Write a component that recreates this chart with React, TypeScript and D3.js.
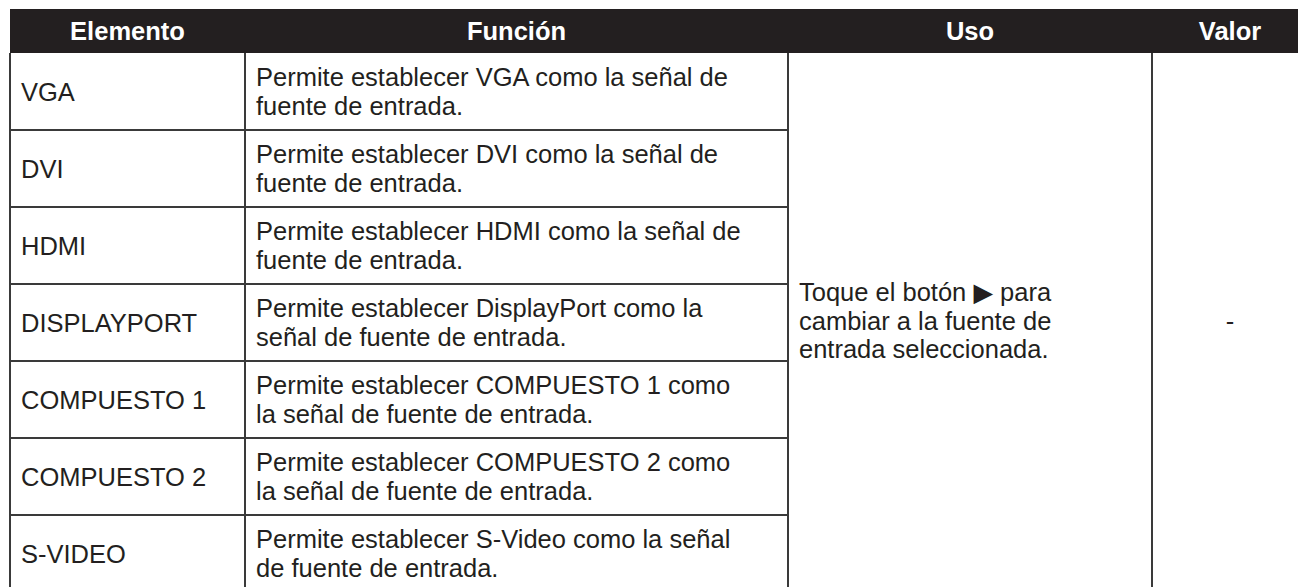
import React, { useEffect, useRef } from "react";
import * as d3 from "d3";

// table content
const headers = ["Elemento", "Función", "Uso", "Valor"];
const elementos = ["VGA", "DVI", "HDMI", "DISPLAYPORT", "COMPUESTO 1", "COMPUESTO 2", "S-VIDEO"];
const funciones = [
  ["Permite establecer VGA como la señal de", "fuente de entrada."],
  ["Permite establecer DVI como la señal de", "fuente de entrada."],
  ["Permite establecer HDMI como la señal de", "fuente de entrada."],
  ["Permite establecer DisplayPort como la", "señal de fuente de entrada."],
  ["Permite establecer COMPUESTO 1 como", "la señal de fuente de entrada."],
  ["Permite establecer COMPUESTO 2 como", "la señal de fuente de entrada."],
  ["Permite establecer S-Video como la señal", "de fuente de entrada."],
];
const usoLines = [["Toque el botón ", "▶", " para"], ["cambiar a la fuente de"], ["entrada seleccionada."]];
const valor = "-";

const App = () => {
  const ref = useRef<SVGSVGElement>(null);

  useEffect(() => {
    const width = 1298;
    const height = 587;
    const ink = "#231f20";
    const lineColor = "#3a3a3a";
    const font = "'Liberation Sans', Arial, Helvetica, sans-serif";
    const fontSize = 25.5;
    const lineGap = 28.5;
    const base = 9; // baseline shift from line centre

    const colEdges = [10, 245, 788, 1152, 1308];
    const headerTop = 9;
    const headerBottom = 53;

    const svg = d3.select(ref.current);
    svg.selectAll("*").remove();

    const rowScale = d3.scaleBand<string>()
      .domain(elementos)
      .range([headerBottom, headerBottom + 77 * elementos.length])
      .padding(0);

    // header
    svg.append("rect")
      .attr("x", colEdges[0])
      .attr("y", headerTop)
      .attr("width", colEdges[4] - colEdges[0])
      .attr("height", headerBottom - headerTop)
      .attr("fill", ink);

    svg.selectAll(".hdr")
      .data(headers)
      .join("text")
      .attr("class", "hdr")
      .attr("x", (d, i) => (colEdges[i] + colEdges[i + 1]) / 2)
      .attr("y", (headerTop + headerBottom) / 2 + base)
      .attr("text-anchor", "middle")
      .attr("font-family", font)
      .attr("font-weight", "bold")
      .attr("font-size", fontSize)
      .attr("fill", "#fff")
      .text(d => d);

    const grid = svg.append("g")
      .attr("stroke", lineColor)
      .attr("stroke-width", 2)
      .attr("fill", "none");

    const tableBottom = rowScale.range()[1];

    // horizontal row lines (only across the first two columns)
    grid.selectAll(".hline")
      .data(elementos)
      .join("line")
      .attr("x1", colEdges[0])
      .attr("x2", colEdges[2])
      .attr("y1", d => rowScale(d)! + rowScale.bandwidth())
      .attr("y2", d => rowScale(d)! + rowScale.bandwidth());

    // vertical lines
    grid.selectAll(".vline")
      .data(colEdges.slice(0, 4))
      .join("line")
      .attr("x1", d => d)
      .attr("x2", d => d)
      .attr("y1", headerBottom)
      .attr("y2", tableBottom);

    // Elemento column
    svg.selectAll(".elem")
      .data(elementos)
      .join("text")
      .attr("class", "elem")
      .attr("x", colEdges[0] + 11)
      .attr("y", d => rowScale(d)! + rowScale.bandwidth() / 2 + base)
      .attr("font-family", font)
      .attr("font-size", fontSize)
      .attr("fill", ink)
      .text(d => d);

    // Función column
    const fg = svg.selectAll(".func")
      .data(funciones)
      .join("text")
      .attr("class", "func")
      .attr("font-family", font)
      .attr("font-size", fontSize)
      .attr("fill", ink);

    fg.each(function (lines, i) {
      const yc = rowScale(elementos[i])! + rowScale.bandwidth() / 2;
      d3.select(this).selectAll("tspan")
        .data(lines)
        .join("tspan")
        .attr("x", colEdges[1] + 11)
        .attr("y", (l, j) => yc + base + (j - (lines.length - 1) / 2) * lineGap)
        .text(l => l);
    });

    // Uso column, spans all rows
    const usoCenter = (headerBottom + tableBottom) / 2 - 2;
    const uso = svg.append("text")
      .attr("font-family", font)
      .attr("font-size", fontSize)
      .attr("fill", ink);

    usoLines.forEach((parts, j) => {
      parts.forEach((p, k) => {
        const t = uso.append("tspan").text(p);
        if (k === 0) {
          t.attr("x", colEdges[2] + 11)
            .attr("y", usoCenter + base + (j - (usoLines.length - 1) / 2) * lineGap);
        }
        if (p === "▶") t.attr("font-family", "'DejaVu Sans', sans-serif");
      });
    });

    // Valor column
    svg.append("text")
      .attr("x", (colEdges[3] + colEdges[4]) / 2)
      .attr("y", usoCenter + base)
      .attr("text-anchor", "middle")
      .attr("font-family", font)
      .attr("font-size", fontSize)
      .attr("fill", ink)
      .text(valor);

    svg.attr("width", width).attr("height", height);
  }, []);

  return (
    <svg ref={ref} width={1298} height={587}
      style={{ position: "absolute", left: 0, top: 0, background: "#fff" }} />
  );
};

export default App;
